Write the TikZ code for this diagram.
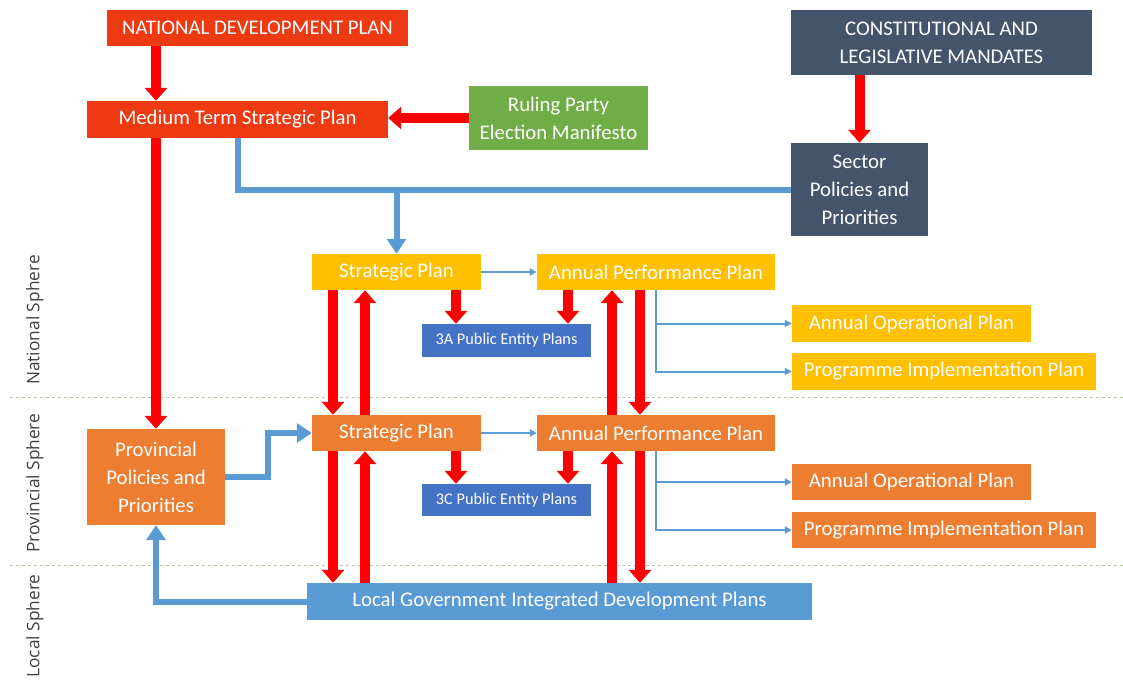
\documentclass[tikz,border=0pt]{standalone}
\usepackage{fontspec}
\setmainfont{Carlito}
\newfontfamily\spherefont{Open Sans}
\usetikzlibrary{arrows.meta}
\definecolor{ndpred}{RGB}{238,58,18}
\definecolor{partygreen}{RGB}{112,173,71}
\definecolor{slate}{RGB}{68,84,106}
\definecolor{natgold}{RGB}{255,192,0}
\definecolor{provorange}{RGB}{237,125,49}
\definecolor{entityblue}{RGB}{68,114,196}
\definecolor{localblue}{RGB}{91,155,213}
\definecolor{arrowred}{RGB}{255,0,0}
\definecolor{sepgreen}{RGB}{175,200,160}
\tikzset{
  plan/.style={fill=#1, text=white, inner sep=2pt, align=center,
    font=\fontsize{20.8}{28}\selectfont},
  entity/.style={plan=entityblue, font=\fontsize{16.3}{18}\selectfont,
    minimum width=169pt},
  sphere/.style={rotate=90, text=black!75, font=\spherefont\fontsize{17.3}{20}\selectfont},
  bigred/.style={draw=arrowred, line width=10pt, -{Triangle[width=22pt,length=13pt]}},
  bluepipe/.style={draw=localblue, line width=6pt},
  bluehead/.style={bluepipe, -{Triangle[width=19pt,length=15pt]}},
  bluethin/.style={draw=localblue, line width=2pt, -{Triangle[width=7pt,length=7pt]}},
  sepline/.style={draw=sepgreen, dashed, line width=.8pt}
}
\begin{document}
\begin{tikzpicture}[x=1pt,y=-1pt]
\useasboundingbox (0,0) rectangle (1123,680);
\draw[sepline] (10,397) -- (1123,397);
\draw[sepline] (10,565) -- (1123,565);
\node[sphere] (natlabel) at (35,320) {National Sphere};
\node[sphere] (provlabel) at (35,483) {Provincial Sphere};
\node[sphere] (locallabel) at (35,626) {Local Sphere};
% top level
\node[plan=ndpred, minimum width=301pt, minimum height=36pt] (ndp) at (257.5,28) {NATIONAL DEVELOPMENT PLAN};
\node[plan=ndpred, minimum width=301pt, minimum height=37pt] (mtsp) at (237.5,119.5) {Medium Term Strategic Plan};
\node[plan=partygreen, minimum width=179pt, minimum height=64pt] (party) at (558.5,118) {Ruling Party\\Election Manifesto};
\node[plan=slate, minimum width=301pt, minimum height=65pt] (mandates) at (941.5,42.5) {CONSTITUTIONAL AND\\LEGISLATIVE MANDATES};
\node[plan=slate, minimum width=137pt, minimum height=93pt] (sector) at (859.5,189.5) {Sector\\Policies and\\Priorities};
% national sphere
\node[plan=natgold, minimum width=169pt, minimum height=36pt] (spn) at (396.5,272) {Strategic Plan};
\node[plan=natgold, minimum width=238pt, minimum height=36pt] (appn) at (656,272) {Annual Performance Plan};
\node[entity, minimum height=33pt] (entn) at (506.5,340.5) {3A Public Entity Plans};
\node[plan=natgold, minimum width=239pt, minimum height=37pt] (aopn) at (911.5,323.5) {Annual Operational Plan};
\node[plan=natgold, minimum width=304pt, minimum height=37pt] (pipn) at (944,371.5) {Programme Implementation Plan};
% provincial sphere
\node[plan=provorange, minimum width=138pt, minimum height=96pt] (prov) at (156,477) {Provincial\\Policies and\\Priorities};
\node[plan=provorange, minimum width=169pt, minimum height=36pt] (spp) at (396.5,433) {Strategic Plan};
\node[plan=provorange, minimum width=238pt, minimum height=36pt] (appp) at (656,433) {Annual Performance Plan};
\node[entity, minimum height=32pt] (entp) at (506.5,500) {3C Public Entity Plans};
\node[plan=provorange, minimum width=239pt, minimum height=36pt] (aopp) at (911.5,482) {Annual Operational Plan};
\node[plan=provorange, minimum width=304pt, minimum height=36pt] (pipp) at (944,530) {Programme Implementation Plan};
% local sphere
\node[plan=localblue, minimum width=505pt, minimum height=37pt] (lg) at (559.5,601.5) {Local Government Integrated Development Plans};
% red arrows
\draw[bigred] (ndp.south -| prov.north) -- (mtsp.north -| prov.north);
\draw[bigred] (party.west) -- (party.west -| mtsp.east);
\draw[bigred] (mandates.south -| sector.north) -- (sector.north);
\draw[bigred] (mtsp.south -| prov.north) -- (prov.north);
\draw[bigred] ([xshift=-63.5pt]spn.south) -- ([xshift=-63.5pt]spp.north);
\draw[bigred] ([xshift=-31.5pt]spp.north) -- ([xshift=-31.5pt]spn.south);
\draw[bigred] ([xshift=59.5pt]spn.south) -- ([xshift=59.5pt]spn.south |- entn.north);
\draw[bigred] ([xshift=-88pt]appn.south) -- ([xshift=-88pt]appn.south |- entn.north);
\draw[bigred] ([xshift=-44pt]appp.north) -- ([xshift=-44pt]appn.south);
\draw[bigred] ([xshift=-16pt]appn.south) -- ([xshift=-16pt]appp.north);
\draw[bigred] ([xshift=-63.5pt]spp.south) -- ([xshift=-63.5pt]spp.south |- lg.north);
\draw[bigred] ([xshift=-31.5pt]spp.south |- lg.north) -- ([xshift=-31.5pt]spp.south);
\draw[bigred] ([xshift=59.5pt]spp.south) -- ([xshift=59.5pt]spp.south |- entp.north);
\draw[bigred] ([xshift=-88pt]appp.south) -- ([xshift=-88pt]appp.south |- entp.north);
\draw[bigred] ([xshift=-44pt]appp.south |- lg.north) -- ([xshift=-44pt]appp.south);
\draw[bigred] ([xshift=-16pt]appp.south) -- ([xshift=-16pt]appp.south |- lg.north);
% blue arrows
\draw[bluepipe] (mtsp.south) |- (sector.west);
\coordinate (split) at (spn.north |- sector.west);
\draw[bluehead] (split) -- (spn.north);
\draw[bluehead] (prov.east) -- ++(43,0) |- (spp.west);
\draw[bluehead] (lg.west) -| (prov.south);
\draw[bluethin] (spn.east) -- (appn.west);
\draw[bluethin] (spp.east) -- (appp.west);
\draw[bluethin] (appn.south) |- (aopn.west);
\draw[bluethin] (appn.south) |- (pipn.west);
\draw[bluethin] (appp.south) |- (aopp.west);
\draw[bluethin] (appp.south) |- (pipp.west);
\end{tikzpicture}
\end{document}
